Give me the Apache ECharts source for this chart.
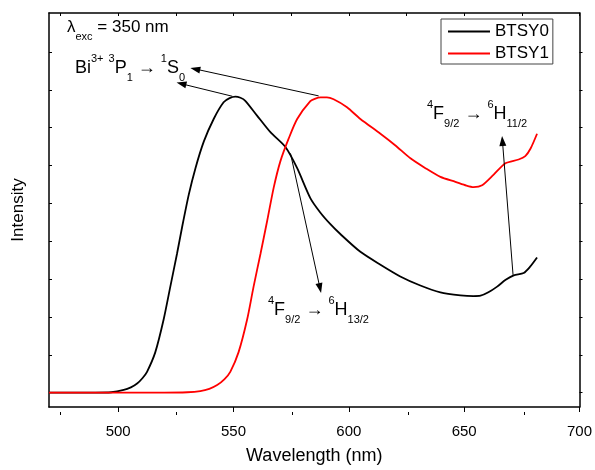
<!DOCTYPE html>
<html>
<head>
<meta charset="utf-8">
<script src="https://cdn.jsdelivr.net/npm/echarts@6/dist/echarts.min.js"></script>
<style>
html, body { margin: 0; padding: 0; background: #fff; }
#chart { width: 595px; height: 470px; }
</style>
</head>
<body>
<div id="chart"></div>
<script>
// emission spectra, wavelength (nm) vs intensity (a.u.)
const bts0 = [
  [470, 0], [490, 0], [497, 0.01], [502.4, 0.07], [505.5, 0.14], [508.2, 0.24], [510.5, 0.38],
  [512.5, 0.55], [516.1, 1.07], [519.7, 1.93], [522.6, 2.8], [525.5, 3.67], [527.7, 4.37],
  [530.6, 5.23], [533.5, 5.93], [537.1, 6.63], [541.4, 7.23], [545.7, 7.67], [548.3, 7.78],
  [550.8, 7.82], [553, 7.79], [555.1, 7.71], [560.2, 7.32], [566, 6.88], [572.5, 6.49],
  [577.6, 5.93], [583.3, 5.14], [587.6, 4.76], [592, 4.45], [596.3, 4.19], [605, 3.72],
  [613.7, 3.38], [622.3, 3.07], [631, 2.83], [639.7, 2.65], [648.4, 2.57], [654, 2.55],
  [657.1, 2.56], [660.5, 2.65], [664.3, 2.8], [668, 2.98], [671.5, 3.1], [675.8, 3.16],
  [678.5, 3.32], [681.6, 3.57]
]
const bts1 = [
  [470, 0], [520, 0], [530, 0.01], [535.6, 0.04], [539.5, 0.1], [542.9, 0.2], [546, 0.35],
  [548.6, 0.55], [552.2, 1.07], [555.9, 1.93], [558.7, 2.8], [561.7, 3.67], [564.6, 4.54],
  [567.4, 5.41], [570.3, 6.11], [573.9, 6.71], [577.6, 7.23], [583.3, 7.7], [585.5, 7.77],
  [587.7, 7.8], [590.5, 7.8], [593.4, 7.75], [599.2, 7.54], [605, 7.23], [613.7, 6.84],
  [620.2, 6.53], [626.7, 6.19], [633.2, 5.93], [639.7, 5.7], [646.2, 5.57], [651, 5.47],
  [654.1, 5.43], [657.8, 5.48], [662.8, 5.76], [667.9, 6.06], [673.6, 6.16], [676.5, 6.25],
  [678.8, 6.45], [681.6, 6.84]
]
const seriesNames = ['BTSY0', 'BTSY1']
const xTicks = [500, 550, 600, 650, 700]
const xMinorTicks = [475, 525, 575, 625, 675]
const xTopTicks = [475, 500, 525, 550, 575, 600, 625, 650, 675, 700]
const yTicks = [0, 1, 2, 3, 4, 5, 6, 7, 8, 9]
// arrows: [from, to] in data coords
const arrows = [
  [[549.5, 7.83], [527.4, 8.16]],
  [[586.9, 7.84], [533.4, 8.55]],
  [[574.7, 6.32], [587.5, 2.76]],
  [[671.2, 3.11], [666.6, 6.65]]
]

const FONT = '"Liberation Sans", Arial, sans-serif'
const axisLine = { show: true, onZero: false, lineStyle: { color: '#000', width: 1.5 } }
const tickStyle = { color: '#000', width: 1 }

const rich = {
  m: { fontSize: 18, lineHeight: 30, verticalAlign: 'middle', fontFamily: FONT, color: '#000' },
  a: { fontSize: 17, lineHeight: 30, verticalAlign: 'middle', fontFamily: FONT, color: '#000' },
  sp: { fontSize: 11, lineHeight: 13, verticalAlign: 'top', fontFamily: FONT, color: '#000' },
  sb: { fontSize: 11, lineHeight: 11, verticalAlign: 'bottom', fontFamily: FONT, color: '#000' }
}

function label (x, y, text) {
  return {
    type: 'text',
    x: x,
    y: y,
    silent: true,
    style: { text: text, rich: rich, align: 'left', verticalAlign: 'middle', fill: '#000' }
  }
}

let chart = echarts.init(document.getElementById('chart'), null, { renderer: 'canvas' })
let option = {
  animation: false,
  backgroundColor: '#fff',
  textStyle: { fontFamily: FONT },
  grid: [
    { left: 49, right: 13, top: 13, bottom: 58 },
    { left: 49, right: 13, top: 13, bottom: 58 }
  ],
  legend: {
    data: seriesNames,
    orient: 'vertical',
    left: 441,
    top: 19,
    borderColor: '#444',
    borderWidth: 1,
    padding: [4, 4, 2, 7],
    icon: 'rect',
    itemWidth: 42,
    itemHeight: 2,
    itemGap: 5,
    textStyle: { fontSize: 17, lineHeight: 17, color: '#000', fontFamily: FONT }
  },
  xAxis: [{
    type: 'value',
    gridIndex: 0,
    position: 'bottom',
    min: 470,
    max: 700,
    axisLine: axisLine,
    axisTick: { show: true, customValues: xTicks, length: 5, inside: false, lineStyle: tickStyle },
    axisLabel: { customValues: xTicks, fontSize: 15, color: '#000', margin: 17, fontFamily: FONT },
    splitLine: { show: false },
    name: 'Wavelength (nm)',
    nameLocation: 'middle',
    nameGap: 40,
    nameTextStyle: { fontSize: 18, color: '#000', fontFamily: FONT }
  }, {
    type: 'value',
    gridIndex: 0,
    position: 'top',
    min: 470,
    max: 700,
    axisLine: axisLine,
    axisTick: { show: true, customValues: xTopTicks, length: 3, inside: true, lineStyle: tickStyle },
    axisLabel: { show: false },
    splitLine: { show: false }
  }, {
    type: 'value',
    gridIndex: 1,
    position: 'bottom',
    min: 470,
    max: 700,
    axisLine: { show: false, onZero: false },
    axisTick: { show: true, customValues: xMinorTicks, length: 3, inside: false, lineStyle: tickStyle },
    axisLabel: { show: false },
    splitLine: { show: false }
  }],
  yAxis: [{
    type: 'value',
    gridIndex: 0,
    position: 'left',
    min: -0.38,
    max: 10.03,
    axisLine: axisLine,
    axisTick: { show: true, customValues: yTicks, length: 3, inside: true, lineStyle: tickStyle },
    axisLabel: { show: false },
    splitLine: { show: false },
    name: 'Intensity',
    nameLocation: 'middle',
    nameGap: 22,
    nameTextStyle: { fontSize: 17, color: '#000', fontFamily: FONT }
  }, {
    type: 'value',
    gridIndex: 0,
    position: 'right',
    min: -0.38,
    max: 10.03,
    axisLine: axisLine,
    axisTick: { show: true, customValues: yTicks, length: 3, inside: false, lineStyle: tickStyle },
    axisLabel: { show: false },
    splitLine: { show: false }
  }, {
    type: 'value',
    gridIndex: 1,
    show: false,
    min: -0.38,
    max: 10.03
  }],
  series: [{
    name: seriesNames[0],
    type: 'line',
    xAxisIndex: 0,
    yAxisIndex: 0,
    data: bts0,
    smooth: 0.25,
    symbol: 'none',
    color: '#000',
    lineStyle: { color: '#000', width: 1.8 },
    z: 2,
    markLine: {
      silent: true,
      symbol: ['none', 'triangle'],
      symbolSize: [7, 10],
      label: { show: false },
      lineStyle: { color: '#000', width: 1, type: 'solid' },
      itemStyle: { color: '#000' },
      data: arrows.map(a => [{ coord: a[0] }, { coord: a[1] }])
    }
  }, {
    name: seriesNames[1],
    type: 'line',
    xAxisIndex: 0,
    yAxisIndex: 0,
    data: bts1,
    smooth: 0.25,
    symbol: 'none',
    color: '#ff0000',
    lineStyle: { color: '#ff0000', width: 1.8 },
    z: 3
  }],
  graphic: [
    label(67, 27, '{a|λ}{sb|exc}{a| = 350 nm}'),
    label(75, 68, '{m|Bi}{sp|3+}{m| }{sp|3}{m|P}{sb|1}{m| → }{sp|1}{m|S}{sb|0}'),
    label(427, 114, '{sp|4}{m|F}{sb|9/2}{m| → }{sp|6}{m|H}{sb|11/2}'),
    label(268, 310, '{sp|4}{m|F}{sb|9/2}{m| → }{sp|6}{m|H}{sb|13/2}')
  ]
}
chart.setOption(option)
</script>
</body>
</html>
